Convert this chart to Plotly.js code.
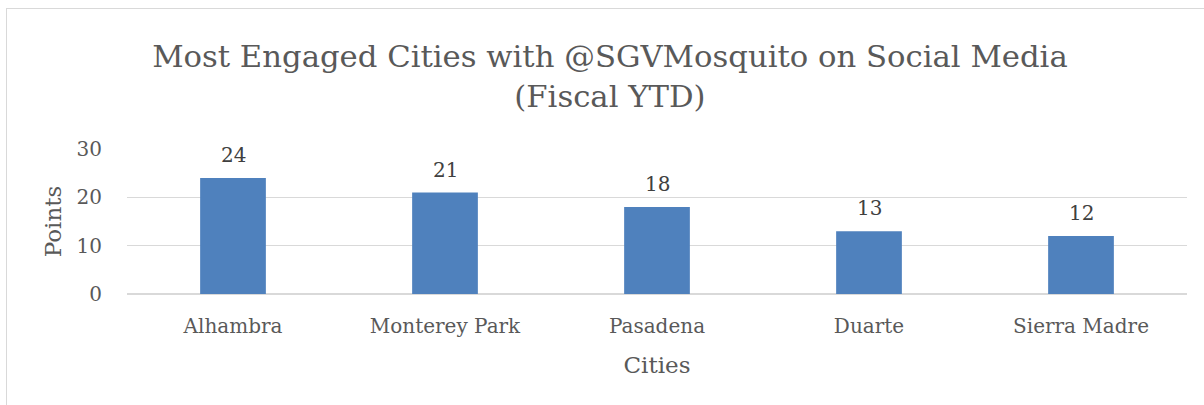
<!DOCTYPE html>
<html>
<head>
<meta charset="utf-8">
<script src="https://cdn.plot.ly/plotly-3.0.1.min.js"></script>
<style>
  html, body { margin: 0; padding: 0; background: #fff; overflow: hidden; }
  #frame { position: absolute; left: 6px; top: 8px; width: 1300px; height: 500px; border: 1px solid #D9D9D9; box-sizing: border-box; }
  #chart { position: absolute; left: 0; top: 0; width: 1204px; height: 405px; }
</style>
</head>
<body>
<div id="frame"></div>
<div id="chart"></div>
<script>
const cities = ["Alhambra", "Monterey Park", "Pasadena", "Duarte", "Sierra Madre"];
const points = [24, 21, 18, 13, 12];
const yTicks = [0, 10, 20, 30];

const FONT = "DejaVu Serif";
const TXT = "#595959";

const trace = {
  type: "bar",
  x: cities,
  y: points,
  marker: { color: "#4F81BD", line: { width: 0 } },
  hoverinfo: "x+y"
};

const annotations = cities.map((c, i) => ({
  x: c, y: points[i], xref: "x", yref: "y",
  text: String(points[i]),
  showarrow: false, yanchor: "bottom", yshift: 9,
  font: { family: FONT, size: 20, color: "#404040" }
}));

const layout = {
  width: 1204, height: 405,
  margin: { l: 127, r: 17, t: 149, b: 111 },
  paper_bgcolor: "rgba(0,0,0,0)",
  plot_bgcolor: "rgba(0,0,0,0)",
  bargap: 0.69,
  showlegend: false,
  title: {
    text: "Most Engaged Cities with @SGVMosquito on Social Media<br>(Fiscal YTD)",
    font: { family: FONT, size: 30.7, color: TXT },
    x: 0.5066, xref: "container", xanchor: "center",
    y: 1 - 67 / 405, yref: "container", yanchor: "top"
  },
  xaxis: {
    type: "category",
    tickfont: { family: FONT, size: 20, color: TXT },
    ticks: "outside", ticklen: 14, tickcolor: "rgba(0,0,0,0)",
    showline: false, showgrid: false, zeroline: false,
    title: { text: "Cities", font: { family: FONT, size: 23, color: TXT }, standoff: 19 }
  },
  yaxis: {
    range: [0, 30],
    tickvals: yTicks,
    ticktext: yTicks.map(String),
    tickfont: { family: FONT, size: 20, color: TXT },
    ticks: "outside", ticklen: 20, tickcolor: "rgba(0,0,0,0)",
    showgrid: true, gridcolor: "#D9D9D9", gridwidth: 1.3,
    zeroline: true, zerolinecolor: "#D9D9D9", zerolinewidth: 1.3,
    showline: false,
    title: { text: "Points", font: { family: FONT, size: 23, color: TXT }, standoff: 8 }
  },
  annotations: annotations
};

Plotly.newPlot("chart", [trace], layout, { displayModeBar: false, staticPlot: true });
</script>
</body>
</html>
